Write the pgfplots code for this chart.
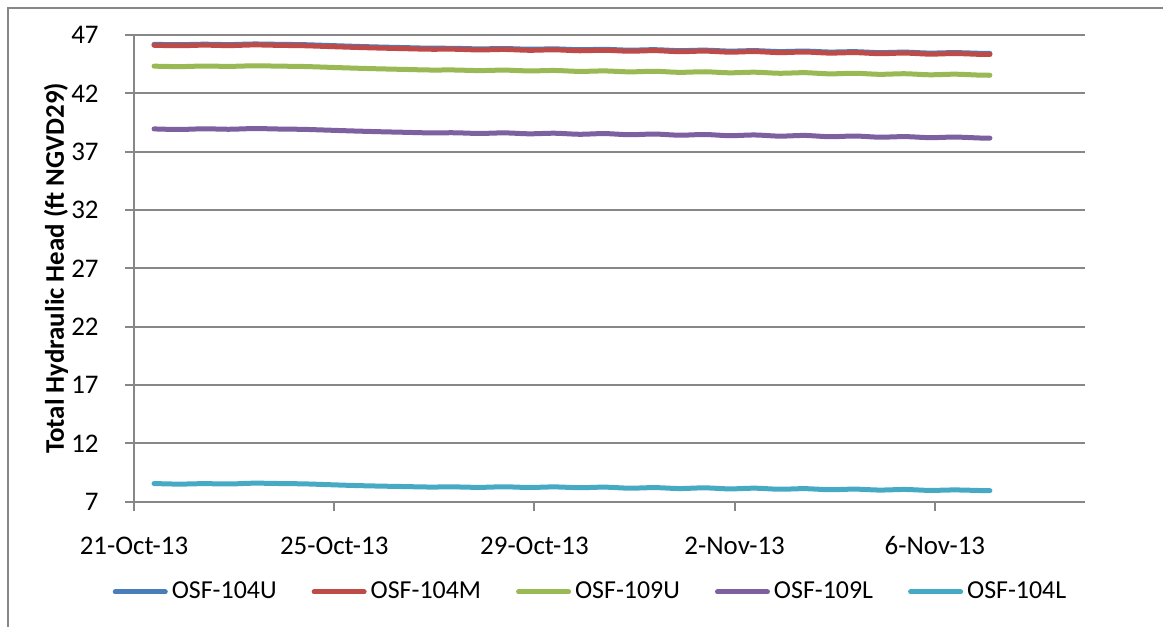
\documentclass[border=0pt]{standalone}
\usepackage{pgfplots}
\pgfplotsset{compat=1.18}
\usepackage{fontspec}
\setmainfont{Carlito}

\definecolor{gridgray}{HTML}{878787}
\definecolor{c104U}{HTML}{4A7EBB}
\definecolor{c104M}{HTML}{BE4B48}
\definecolor{c109U}{HTML}{98B954}
\definecolor{c109L}{HTML}{7D60A0}
\definecolor{c104L}{HTML}{46AAC5}

\newcommand{\chartfont}{\fontsize{13.5}{16}\selectfont}
\newcommand{\legfont}{\fontsize{13}{15.5}\selectfont}

% x = days after 21-Oct-13
\pgfplotstableread{
t      u104   m104   u109   l109   l104
0.4    46.20  46.12  44.33  38.95  8.55
0.9    46.17  46.08  44.29  38.90  8.50
1.4    46.21  46.13  44.34  38.96  8.54
1.9    46.18  46.09  44.31  38.92  8.51
2.4    46.23  46.15  44.36  38.98  8.58
2.9    46.20  46.11  44.33  38.94  8.55
3.4    46.17  46.08  44.30  38.91  8.52
3.9    46.10  46.01  44.23  38.84  8.45
4.4    46.03  45.94  44.16  38.77  8.38
4.9    45.97  45.88  44.10  38.71  8.33
5.4    45.92  45.83  44.05  38.66  8.29
5.9    45.87  45.78  44.00  38.61  8.25
6.4    45.86  45.78  44.00  38.62  8.26
6.9    45.81  45.72  43.95  38.56  8.22
7.4    45.84  45.76  43.99  38.61  8.27
7.9    45.78  45.69  43.92  38.53  8.21
8.4    45.81  45.73  43.96  38.58  8.26
8.9    45.74  45.65  43.88  38.49  8.19
9.4    45.77  45.69  43.92  38.55  8.24
9.9    45.70  45.61  43.84  38.45  8.15
10.4   45.74  45.66  43.89  38.51  8.20
10.9   45.66  45.57  43.80  38.41  8.12
11.4   45.70  45.62  43.85  38.47  8.18
11.9   45.62  45.53  43.76  38.37  8.09
12.4   45.66  45.58  43.81  38.43  8.15
12.9   45.58  45.49  43.72  38.33  8.06
13.4   45.62  45.54  43.77  38.39  8.11
13.9   45.54  45.45  43.67  38.28  8.02
14.4   45.57  45.49  43.72  38.34  8.07
14.9   45.49  45.40  43.63  38.24  7.99
15.4   45.53  45.45  43.68  38.29  8.04
15.9   45.45  45.36  43.59  38.20  7.96
16.4   45.49  45.41  43.64  38.25  8.00
16.9   45.43  45.34  43.56  38.17  7.95
17.1   45.42  45.33  43.55  38.16  7.94
}\heads

\begin{document}
\begin{tikzpicture}[font=\chartfont]
\useasboundingbox (0,0) rectangle (581.5bp,-313.5bp);
\draw[gridgray, line width=1bp] (4bp,-313.5bp) -- (4bp,-4bp) -- (581.5bp,-4bp);
\begin{axis}[
  at={(67bp,-250.8bp)}, anchor=south west,
  scale only axis, width=475.5bp, height=233.3bp,
  xmin=0, xmax=19, ymin=7, ymax=47,
  xtick={0,4,8,12,16},
  xticklabels={21-Oct-13,25-Oct-13,29-Oct-13,2-Nov-13,6-Nov-13},
  ytick={7,12,...,47},
  /pgf/number format/assume math mode=true,
  axis lines*=left,
  axis line style={gridgray, line width=1bp, -},
  tick align=outside, tick pos=left,
  major tick length=4.5bp,
  every tick/.style={gridgray, line width=1bp},
  ymajorgrids,
  grid style={gridgray, line width=1bp},
  tick label style={font=\chartfont},
  xticklabel style={anchor=base, yshift=-22bp, inner sep=0pt},
  yticklabel style={anchor=east, xshift=-13bp, inner sep=0pt},
  ylabel={\bfseries Total Hydraulic Head (ft NGVD29)},
  ylabel style={font=\chartfont, at={(axis description cs:-0.0820,0.5)}, anchor=center},
  legend columns=5,
  legend style={draw=none, font=\legfont, at={(axis description cs:0.479,-0.1937)}, anchor=center,
    nodes={inner sep=0pt},
    /tikz/every odd column/.style={column sep=2bp},
    /tikz/every even column/.style={column sep=17.5bp}},
  legend image code/.code={\draw[#1, line width=2.5bp, line cap=round] (1.25bp,0bp) -- (26.25bp,0bp);},
  every axis plot/.append style={line width=2.5bp, line cap=round, line join=round, smooth, tension=0.5},
]
\addplot[c104U] table[x=t, y=u104] {\heads};
\addplot[c104M] table[x=t, y=m104] {\heads};
\addplot[c109U] table[x=t, y=u109] {\heads};
\addplot[c109L] table[x=t, y=l109] {\heads};
\addplot[c104L] table[x=t, y=l104] {\heads};
\legend{OSF-104U,OSF-104M,OSF-109U,OSF-109L,OSF-104L}
\end{axis}
\end{tikzpicture}
\end{document}
